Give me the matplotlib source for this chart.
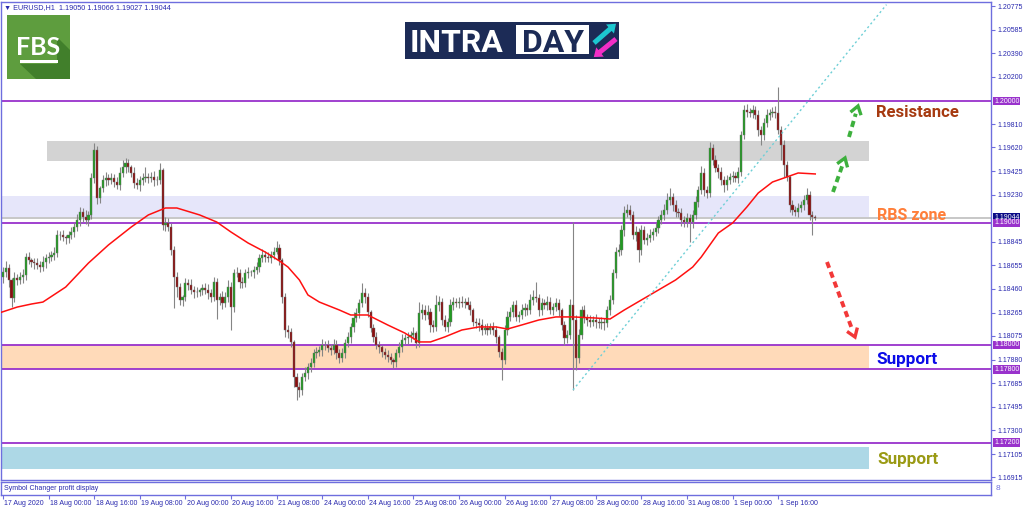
import numpy as np
import matplotlib
matplotlib.use("Agg")
import matplotlib.pyplot as plt
from matplotlib.patches import Rectangle, Polygon, FancyArrow
import matplotlib.transforms as mtransforms

plt.rcParams['font.family'] = ['Liberation Sans', 'DejaVu Sans']

# ---------------- data (EURUSD H1, bar 0 = 17 Aug 2020 08:00) ----------------
first_open = 1.18560
close = [
    1.18598, 1.18631, 1.18533, 1.18385, 1.18549, 1.18533, 1.18557, 1.18574, 1.18721, 1.18697,
    1.18680, 1.18672, 1.18656, 1.18639, 1.18680, 1.18713, 1.18721, 1.18738, 1.18754, 1.18902,
    1.18902, 1.18885, 1.18877, 1.18902, 1.18926, 1.18967, 1.19025, 1.19090, 1.19049, 1.19025,
    1.19066, 1.19369, 1.19598, 1.19205, 1.19287, 1.19352, 1.19369, 1.19352, 1.19369, 1.19336,
    1.19311, 1.19410, 1.19459, 1.19492, 1.19459, 1.19410, 1.19328, 1.19311, 1.19352, 1.19369,
    1.19377, 1.19369, 1.19377, 1.19352, 1.19352, 1.19434, 1.18984, 1.19000, 1.18967, 1.18779,
    1.18557, 1.18475, 1.18369, 1.18393, 1.18508, 1.18492, 1.18451, 1.18434, 1.18434, 1.18451,
    1.18467, 1.18451, 1.18426, 1.18393, 1.18516, 1.18369, 1.18393, 1.18344, 1.18393, 1.18475,
    1.18311, 1.18590, 1.18590, 1.18516, 1.18508, 1.18590, 1.18598, 1.18598, 1.18615, 1.18639,
    1.18713, 1.18738, 1.18721, 1.18713, 1.18738, 1.18762, 1.18795, 1.18697, 1.18393, 1.18123,
    1.18106, 1.18025, 1.17738, 1.17656, 1.17631, 1.17738, 1.17770, 1.17820, 1.17852, 1.17934,
    1.17943, 1.17959, 1.18000, 1.18000, 1.17975, 1.17959, 1.18000, 1.17934, 1.17893, 1.17934,
    1.18016, 1.18066, 1.18147, 1.18221, 1.18262, 1.18344, 1.18426, 1.18393, 1.18270, 1.18139,
    1.18066, 1.18000, 1.17984, 1.17943, 1.17918, 1.17902, 1.17877, 1.17861, 1.17934, 1.17984,
    1.18041, 1.18057, 1.18066, 1.18082, 1.18098, 1.18016, 1.18262, 1.18287, 1.18246, 1.18270,
    1.18164, 1.18147, 1.18328, 1.18352, 1.18205, 1.18147, 1.18188, 1.18328, 1.18352, 1.18344,
    1.18352, 1.18344, 1.18352, 1.18328, 1.18287, 1.18188, 1.18180, 1.18164, 1.18123, 1.18139,
    1.18123, 1.18147, 1.18123, 1.18066, 1.17943, 1.17877, 1.18123, 1.18229, 1.18270, 1.18328,
    1.18229, 1.18246, 1.18287, 1.18303, 1.18287, 1.18369, 1.18393, 1.18385, 1.18287, 1.18344,
    1.18328, 1.18352, 1.18287, 1.18311, 1.18344, 1.18287, 1.18164, 1.18057, 1.18082, 1.18328,
    1.18205, 1.17893, 1.18082, 1.18287, 1.18221, 1.18205, 1.18188, 1.18205, 1.18188, 1.18180,
    1.18188, 1.18180, 1.18287, 1.18369, 1.18590, 1.18762, 1.18779, 1.18943, 1.19082, 1.19107,
    1.19066, 1.18902, 1.18926, 1.18779, 1.18943, 1.18861, 1.18877, 1.18902, 1.18926, 1.18959,
    1.19025, 1.19066, 1.19107, 1.19188, 1.19213, 1.19148, 1.19090, 1.19082, 1.19025, 1.19008,
    1.19041, 1.19008, 1.19066, 1.19172, 1.19270, 1.19410, 1.19270, 1.19246, 1.19615, 1.19516,
    1.19451, 1.19418, 1.19352, 1.19311, 1.19352, 1.19377, 1.19385, 1.19369, 1.19418, 1.19721,
    1.19926, 1.19910, 1.19902, 1.19926, 1.19885, 1.19762, 1.19721, 1.19820, 1.19885, 1.19902,
    1.19910, 1.19902, 1.19762, 1.19639, 1.19475, 1.19377, 1.19148, 1.19107, 1.19090, 1.19123,
    1.19148, 1.19188, 1.19229, 1.19066, 1.19050, 1.19044,
]
# wick lengths in pips above max(open, close) / below min(open, close)
upper_wick = [
    4, 6, 3, 2, 5, 3, 4, 5, 3, 4, 2, 3, 4, 3, 5, 3, 4, 3, 5, 4,
    3, 4, 2, 3, 4, 3, 5, 4, 3, 6, 3, 4, 6, 3, 2, 4, 5, 3, 4, 3,
    4, 5, 6, 4, 3, 2, 5, 4, 3, 4, 8, 3, 4, 5, 3, 6, 2, 5, 4, 3,
    3, 4, 3, 2, 4, 3, 5, 3, 4, 2, 3, 4, 5, 3, 4, 3, 3, 5, 4, 6,
    4, 3, 5, 3, 4, 3, 4, 2, 3, 4, 3, 5, 3, 4, 3, 4, 6, 3, 2, 3,
    4, 3, 2, 3, 4, 3, 5, 3, 4, 3, 4, 3, 5, 3, 4, 3, 5, 4, 3, 4,
    3, 4, 3, 5, 4, 3, 8, 4, 3, 2, 3, 4, 3, 2, 3, 4, 3, 2, 3, 4,
    5, 3, 4, 3, 5, 2, 9, 5, 4, 6, 3, 4, 8, 5, 3, 4, 3, 5, 4, 3,
    4, 5, 3, 4, 3, 2, 3, 4, 5, 3, 4, 3, 4, 3, 2, 3, 4, 5, 4, 3,
    4, 3, 5, 4, 3, 5, 6, 12, 3, 4, 3, 5, 4, 3, 4, 3, 2, 3, 4, 5,
    68, 4, 5, 3, 4, 3, 4, 3, 5, 3, 4, 3, 3, 4, 3, 4, 5, 4, 6, 5,
    4, 3, 5, 3, 4, 3, 4, 5, 3, 4, 3, 4, 5, 6, 7, 3, 4, 3, 4, 3,
    4, 3, 4, 5, 3, 6, 4, 3, 5, 3, 4, 3, 4, 3, 4, 3, 4, 3, 4, 3,
    4, 5, 3, 4, 3, 4, 3, 4, 5, 3, 4, 5, 21, 3, 4, 3, 2, 4, 3, 4,
    3, 4, 6, 3, 3, 1.6,
]
lower_wick = [
    5, 4, 6, 7, 3, 4, 3, 5, 4, 3, 4, 5, 3, 4, 3, 5, 4, 3, 4, 3,
    4, 3, 5, 4, 3, 4, 3, 5, 4, 3, 5, 3, 4, 5, 4, 3, 5, 4, 3, 4,
    3, 4, 3, 5, 4, 3, 4, 3, 5, 4, 3, 4, 3, 5, 4, 3, 4, 5, 3, 4,
    25, 8, 4, 5, 3, 4, 3, 5, 4, 3, 4, 3, 5, 4, 3, 16, 4, 5, 3, 4,
    19, 4, 3, 5, 4, 3, 4, 3, 5, 3, 4, 3, 4, 3, 4, 3, 2, 4, 5, 6,
    5, 4, 8, 11, 6, 4, 3, 5, 4, 3, 4, 3, 5, 4, 3, 4, 3, 5, 4, 3,
    4, 3, 5, 4, 3, 4, 3, 5, 4, 3, 4, 3, 5, 4, 3, 4, 3, 5, 4, 3,
    4, 3, 5, 4, 3, 4, 3, 5, 4, 3, 6, 4, 3, 5, 4, 3, 4, 3, 4, 3,
    4, 3, 4, 3, 4, 3, 4, 5, 4, 3, 4, 3, 4, 5, 4, 16, 3, 4, 3, 4,
    3, 4, 3, 5, 4, 3, 4, 3, 5, 4, 3, 4, 3, 4, 3, 5, 4, 6, 4, 3,
    57, 10, 4, 3, 4, 5, 4, 3, 5, 4, 5, 6, 3, 4, 3, 4, 3, 4, 5, 3,
    4, 3, 5, 10, 4, 3, 4, 3, 4, 3, 4, 3, 4, 3, 4, 5, 4, 3, 5, 4,
    4, 16, 5, 3, 4, 3, 5, 4, 3, 4, 3, 5, 4, 6, 4, 3, 4, 3, 4, 3,
    3, 4, 3, 4, 3, 5, 8, 4, 3, 4, 3, 4, 3, 12, 10, 3, 6, 4, 3, 4,
    3, 4, 3, 4, 15, 1.7,
]
# moving average (red line) read at sample bars
ma_bar = [-1, 5, 10, 14, 22, 30, 37, 45, 51, 57, 61, 69, 75, 80, 86, 92, 97, 100, 104,
          107, 111, 118, 122, 128, 135, 141, 146, 150, 155, 161, 167, 173, 177, 182, 188,
          194, 200, 208, 213, 218, 224, 230, 236, 242, 245, 251, 256, 261, 265, 270, 275,
          279, 285]
ma_val = [1.18265, 1.18311, 1.18336, 1.18352, 1.18475, 1.18672, 1.18820, 1.18967, 1.19066,
          1.19123, 1.19123, 1.19066, 1.19008, 1.18926, 1.18836, 1.18762, 1.18689, 1.18639,
          1.18533, 1.18410, 1.18352, 1.18287, 1.18246, 1.18246, 1.18164, 1.18098, 1.18025,
          1.18025, 1.18066, 1.18123, 1.18148, 1.18148, 1.18131, 1.18164, 1.18205, 1.18230,
          1.18230, 1.18221, 1.18213, 1.18287, 1.18369, 1.18451, 1.18533, 1.18639, 1.18721,
          1.18918, 1.19000, 1.19131, 1.19246, 1.19336, 1.19377, 1.19410, 1.19402]

level_lines = [1.20000, 1.19000, 1.18000, 1.17800, 1.17200]
bid_price = 1.19044
# zones: (start bar, end bar, low, high, colour)
zones = [
    (15.4, 303.9, 1.19510, 1.19675, '#D3D3D3'),
    (-1.0, 303.9, 1.19048, 1.19225, '#E6E6FA'),
    (-1.0, 303.9, 1.17800, 1.18000, '#FFDAB9'),
    (-1.0, 303.9, 1.16981, 1.17161, '#ADD8E6'),
]
trend_bars = [200, 310]
trend_prices = [1.17631, 1.20790]

y_ticks = [1.20775, 1.20585, 1.20390, 1.20200, 1.19810, 1.19620, 1.19425, 1.19230,
           1.18845, 1.18655, 1.18460, 1.18265, 1.18075, 1.17880, 1.17685, 1.17495,
           1.17300, 1.17105, 1.16915]
x_tick_bars = list(range(0, 273, 16))
x_tick_labels = ['17 Aug 2020', '18 Aug 00:00', '18 Aug 16:00', '19 Aug 08:00',
                 '20 Aug 00:00', '20 Aug 16:00', '21 Aug 08:00', '24 Aug 00:00',
                 '24 Aug 16:00', '25 Aug 08:00', '26 Aug 00:00', '26 Aug 16:00',
                 '27 Aug 08:00', '28 Aug 00:00', '28 Aug 16:00', '31 Aug 08:00',
                 '1 Sep 00:00', '1 Sep 16:00']

# ---------------- styling ----------------
FRAME = '#6E6EDE'
TXT = '#2828AE'
PURPLE = '#9932CC'
GREEN = '#229B22'
RED = '#8B0F0F'
WICK = '#858585'
PIP = 0.0001

W, H = 1024, 511
fig = plt.figure(figsize=(W / 100, H / 100), dpi=100)

ax = fig.add_axes([1 / W, 1 - 480 / H, 990 / W, 478 / H])
ax.set_xlim(-0.7, 346.67)
ax.set_ylim(1.168934, 1.208115)

for s in ax.spines.values():
    s.set_color(FRAME)
    s.set_linewidth(1.0)

# zones
for x0, x1, lo, hi, col in zones:
    ax.add_patch(Rectangle((x0, lo), x1 - x0, hi - lo, fc=col, ec='none', zorder=0.5))

# bid line and levels
ax.axhline(bid_price, color='#BDBDBD', lw=1.2, zorder=1)
for lv in level_lines:
    ax.axhline(lv, color=PURPLE, lw=1.3, zorder=1.2)

# candles
c = np.array(close)
o = np.array([first_open] + close[:-1])
top = np.maximum(o, c)
bot = np.minimum(o, c)
hi = top + np.array(upper_wick) * PIP
lo = bot - np.array(lower_wick) * PIP
idx = np.arange(len(c))
ax.vlines(idx, lo, hi, color=WICK, lw=0.8, zorder=3)
bh = np.maximum(top - bot, 0.00003)
up = c >= o
ax.bar(idx[up], bh[up], bottom=bot[up], width=0.75, color=GREEN, edgecolor='#6f6f6f',
       linewidth=0.3, zorder=4)
ax.bar(idx[~up], bh[~up], bottom=bot[~up], width=0.75, color=RED, edgecolor='#6f6f6f',
       linewidth=0.3, zorder=4)

# moving average and trend line
ax.plot(ma_bar, ma_val, color='#FF1010', lw=1.1, zorder=5)
ax.plot(trend_bars, trend_prices, color='#6ECFD6', lw=1.0, ls=(0, (1.5, 2.0)), zorder=5)

# axes ticks
ax.set_xticks([])
ax.yaxis.tick_right()
ax.set_yticks(y_ticks)
ax.set_yticklabels([f"{t:.5f}" for t in y_ticks])
ax.tick_params(axis='y', direction='out', length=3, width=0.8, color=FRAME,
               labelcolor=TXT, labelsize=5, pad=1.5)

hl_labels = [(1.20000, PURPLE), (1.19044, '#0B0B86'), (1.19000, PURPLE),
             (1.18000, PURPLE), (1.17800, PURPLE), (1.17200, PURPLE)]
for p, col in hl_labels:
    ax.annotate(f"{p:.5f}", xy=(1, p), xycoords=('axes fraction', 'data'),
                xytext=(3, 0), textcoords='offset pixels', ha='left', va='center',
                fontsize=5, color='white', annotation_clip=False, zorder=20,
                bbox=dict(boxstyle='square,pad=0.12', fc=col, ec='none'))

# sub window
sx = fig.add_axes([1 / W, 1 - 495 / H, 990 / W, 13 / H])
sx.set_xlim(-0.7, 346.67)
sx.set_ylim(0, 1)
sx.set_yticks([])
for s in sx.spines.values():
    s.set_color(FRAME)
    s.set_linewidth(1.0)
sx.set_xticks(x_tick_bars)
sx.tick_params(axis='x', direction='out', length=3, width=0.8, color=FRAME,
               labelbottom=False)
blend = mtransforms.blended_transform_factory(sx.transData, sx.transAxes)
for b, lbl in zip(x_tick_bars, x_tick_labels):
    sx.text(b + 0.5, -0.35, lbl, transform=blend, ha='left', va='top', fontsize=5,
            color=TXT, clip_on=False)
sx.text(0.003, 0.5, 'Symbol Changer profit display', transform=sx.transAxes,
        ha='left', va='center', fontsize=5, color=TXT)

# ---------------- overlay in pixel coordinates ----------------
ov = fig.add_axes([0, 0, 1, 1], zorder=10)
ov.set_xlim(0, W)
ov.set_ylim(H, 0)
ov.axis('off')

ov.text(4, 7.5, '▼ EURUSD,H1  1.19050 1.19066 1.19027 1.19044', fontsize=5.2,
        color=TXT, va='center', ha='left')
ov.text(996, 488, '8', fontsize=6, color=FRAME, va='center', ha='left')

# FBS logo
ov.add_patch(Rectangle((7, 15), 63, 64, fc='#5E9D3E', ec='none'))
ov.add_patch(Polygon([(57, 37), (70, 50), (70, 79), (36, 79), (20, 64), (57, 64)],
                     closed=True, fc='#417F2B', ec='none'))
ov.text(38.5, 55, 'FBS', color='white', fontfamily='Lato', fontweight='bold',
        fontsize=18, ha='center', va='baseline')
ov.add_patch(Rectangle((20, 60.5), 38, 2.6, fc='white', ec='none'))

# INTRADAY logo
ov.add_patch(Rectangle((405, 22), 214, 37, fc='#1C2B56', ec='none'))
ov.text(410, 52, 'INTRA', color='white', fontfamily='Roboto', fontweight='bold',
        fontsize=23, ha='left', va='baseline')
ov.add_patch(Rectangle((516, 25), 73, 29, fc='white', ec='none'))
ov.text(552.5, 52, 'DAY', color='#1C2B56', fontfamily='Roboto', fontweight='bold',
        fontsize=23, ha='center', va='baseline')
ov.add_artist(FancyArrow(594, 43, 16, -14, width=5, head_width=12, head_length=8,
                         length_includes_head=False, fc='#1CC7D0', ec='none'))
ov.add_artist(FancyArrow(616, 39, -16, 13, width=5, head_width=12, head_length=8,
                         length_includes_head=False, fc='#F22EC6', ec='none'))


def dashed_arrow(x0, y0, x1, y1, color):
    d = np.array([x1 - x0, y1 - y0], dtype=float)
    d /= np.hypot(*d)
    p = np.array([-d[1], d[0]])
    tip = np.array([x1, y1], dtype=float)
    base = tip - 8 * d
    ov.plot([x0, base[0]], [y0, base[1]], color=color, lw=2.8,
            ls=(0, (1.6, 1.1)), dash_capstyle='butt')
    l1 = base + 5.5 * p
    l2 = base - 5.5 * p
    ov.plot([l1[0], tip[0], l2[0]], [l1[1], tip[1], l2[1]], color=color, lw=2.4,
            solid_joinstyle='miter', solid_capstyle='butt')


dashed_arrow(833, 192, 845, 158, '#3DB03D')
dashed_arrow(849, 137, 858, 106, '#3DB03D')
dashed_arrow(827, 262, 855, 337, '#F23838')

ov.text(876, 117, 'Resistance', color='#A63A10', fontfamily='Roboto', fontweight='bold',
        fontsize=12, ha='left', va='baseline')
ov.text(877, 220, 'RBS zone', color='#FF7F3A', fontfamily='Roboto', fontweight='bold',
        fontsize=11.5, ha='left', va='baseline')
ov.text(876, 364, 'Support', color='#0B0BE8', fontfamily='Roboto', fontweight='bold',
        fontsize=12.3, ha='left', va='baseline')
ov.text(877, 464, 'Support', color='#9A9A14', fontfamily='Roboto', fontweight='bold',
        fontsize=12.3, ha='left', va='baseline')

fig.savefig('out.png', dpi=100, facecolor='white')
